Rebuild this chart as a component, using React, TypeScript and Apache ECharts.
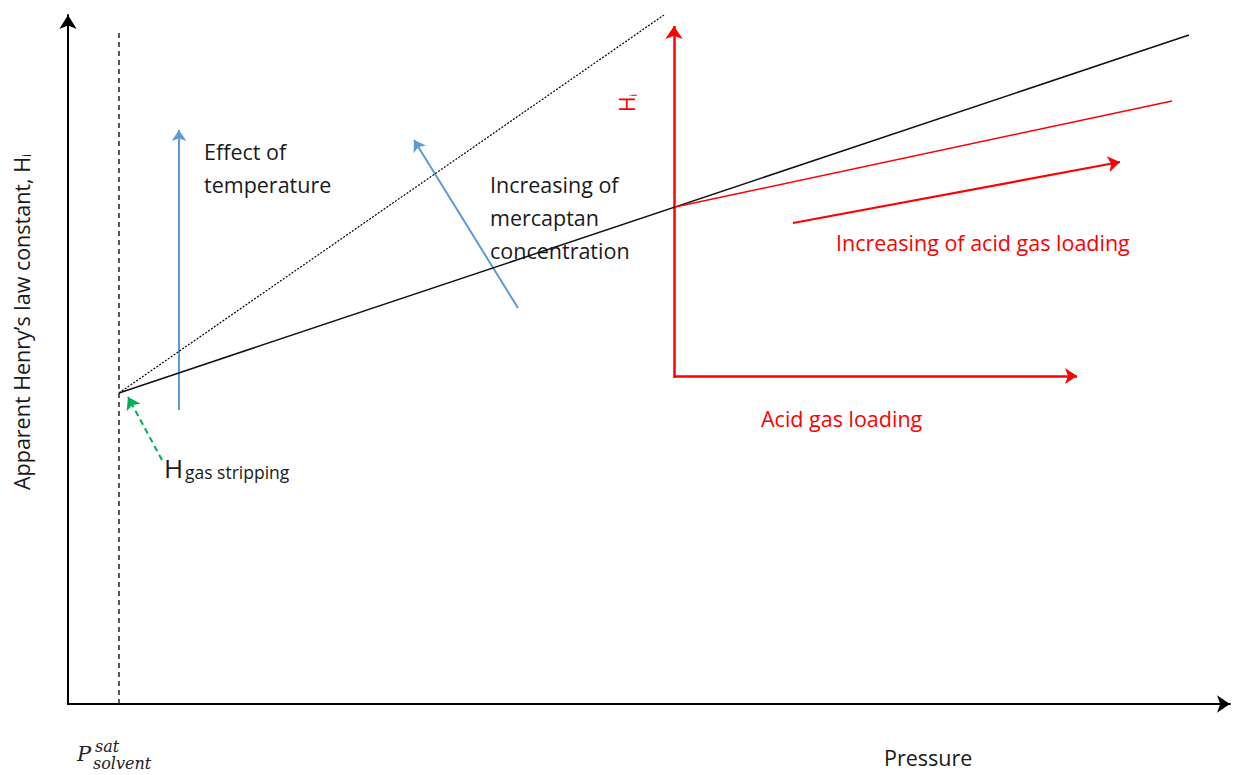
import React, { useEffect, useRef } from "react";
import * as echarts from "echarts";

// Schematic data (x: pressure units, y: apparent Henry's constant units)
const satPressure = 5.1;
const satLine: number[][] = [[satPressure, 0], [satPressure, 67.4]];
const baseLine: number[][] = [[5.1, 31.1], [112.1, 66.9]];
const dottedLine: number[][] = [[5.1, 31.1], [59.6, 68.9]];
const redLoadingLine: number[][] = [[60.7, 49.7], [110.4, 60.3]];
const tempArrow: number[][] = [[11.1, 29.4], [11.1, 57.4]];
const mercaptanArrow: number[][] = [[45.0, 39.6], [34.6, 56.4]];
const hiAxisArrow: number[][] = [[60.6, 32.6], [60.6, 67.8]];
const loadingAxisArrow: number[][] = [[60.6, 32.8], [100.9, 32.8]];
const loadingArrow: number[][] = [[72.5, 48.1], [105.2, 54.2]];
const strippingArrow: number[][] = [[9.4, 24.4], [6.0, 30.7]];

const FONT = "'Open Sans', Lato, sans-serif";
const SERIF = "'DejaVu Serif', 'Liberation Serif', serif";
const BLUE = "#5b9bd5";
const RED = "#ff0000";
const GREEN = "#00b050";
const TXT = "#1a1a1a";

function arrowSeries(coords: number[][], color: string, width: number, size: number, type: any = "solid") {
  return {
    type: "lines",
    coordinateSystem: "cartesian2d",
    symbol: ["none", "arrow"],
    symbolSize: size,
    lineStyle: { color, width, type, opacity: 1 },
    data: [{ coords }],
    silent: true,
  };
}

function plainLine(coords: number[][], color: string, width: number, type: any = "solid") {
  return {
    type: "line",
    data: coords,
    showSymbol: false,
    symbol: "none",
    lineStyle: { color, width, type },
    silent: true,
  };
}

export default function App() {
  const ref = useRef<HTMLDivElement>(null);
  useEffect(() => {
    if (!ref.current) return;
    const chart = echarts.init(ref.current, null, { renderer: "svg" });
    const txt = (x: number, y: number, text: string, size: number, color = TXT, extra: any = {}) => ({
      type: "text",
      x,
      y,
      ...extra,
      style: {
        text,
        fill: color,
        font: `${size}px ${FONT}`,
        align: "left",
        verticalAlign: "middle",
        ...(extra.style || {}),
      },
    });
    chart.setOption({
      animation: false,
      backgroundColor: "#ffffff",
      grid: { left: 68, right: 9, top: 15, bottom: 71 },
      xAxis: {
        type: "value",
        min: 0,
        max: 116.2,
        axisLine: { show: true, symbol: ["none", "arrow"], symbolSize: [13, 13], lineStyle: { color: "#000", width: 2 } },
        axisTick: { show: false },
        axisLabel: { show: false },
        splitLine: { show: false },
      },
      yAxis: {
        type: "value",
        min: 0,
        max: 68.9,
        axisLine: { show: true, symbol: ["none", "arrow"], symbolSize: [13, 14], lineStyle: { color: "#000", width: 2 } },
        axisTick: { show: false },
        axisLabel: { show: false },
        splitLine: { show: false },
      },
      series: [
        plainLine(satLine, "#222", 1.5, [5, 4]),
        plainLine(dottedLine, "#000", 1.2, [2, 1.5]),
        plainLine(baseLine, "#111", 1.5),
        plainLine(redLoadingLine, RED, 1.5),
        arrowSeries(tempArrow, BLUE, 2, 11),
        arrowSeries(mercaptanArrow, BLUE, 2, 11),
        arrowSeries(hiAxisArrow, RED, 2.5, 13),
        arrowSeries(loadingAxisArrow, RED, 2.5, 12),
        arrowSeries(loadingArrow, RED, 2.2, 12),
        arrowSeries(strippingArrow, GREEN, 2, 12, [6, 4]),
      ],
      graphic: [
        txt(21, 322, "Apparent Henry\u2019s law constant, H{s|i}", 21.5, TXT, {
          rotation: Math.PI / 2,
          style: { align: "center", rich: { s: { fontSize: 12, fontFamily: FONT, fill: TXT, verticalAlign: "bottom", padding: [8, 0, 0, 0] } } },
        }),
        txt(627, 103, "H{s|i}", 21, RED, {
          rotation: Math.PI / 2,
          style: { align: "center", rich: { s: { fontSize: 10, fontFamily: FONT, fill: RED, verticalAlign: "bottom", padding: [8, 0, 0, 0] } } },
        }),
        txt(204, 151, "Effect of", 21.5),
        txt(204, 184, "temperature", 21.5),
        txt(490, 184, "Increasing of", 21.5),
        txt(490, 217, "mercaptan", 21.5),
        txt(490, 250, "concentration", 21.5),
        txt(836, 242, "Increasing of acid gas loading", 21.5, RED),
        txt(761, 418, "Acid gas loading", 21.5, RED),
        txt(884, 757, "Pressure", 21.5),
        txt(164, 468, "H", 26),
        txt(185, 472, "gas stripping", 17.5),
        txt(77, 754, "P", 21, "#222", { style: { font: `italic 21px ${SERIF}` } }),
        txt(95, 746, "sat", 16, "#222", { style: { font: `italic 16px ${SERIF}` } }),
        txt(93, 763, "solvent", 16, "#222", { style: { font: `italic 16px ${SERIF}` } }),
      ],
    });
    return () => chart.dispose();
  }, []);
  return <div ref={ref} style={{ position: "fixed", left: 0, top: 0, width: 1239, height: 775, background: "#fff" }} />;
}
